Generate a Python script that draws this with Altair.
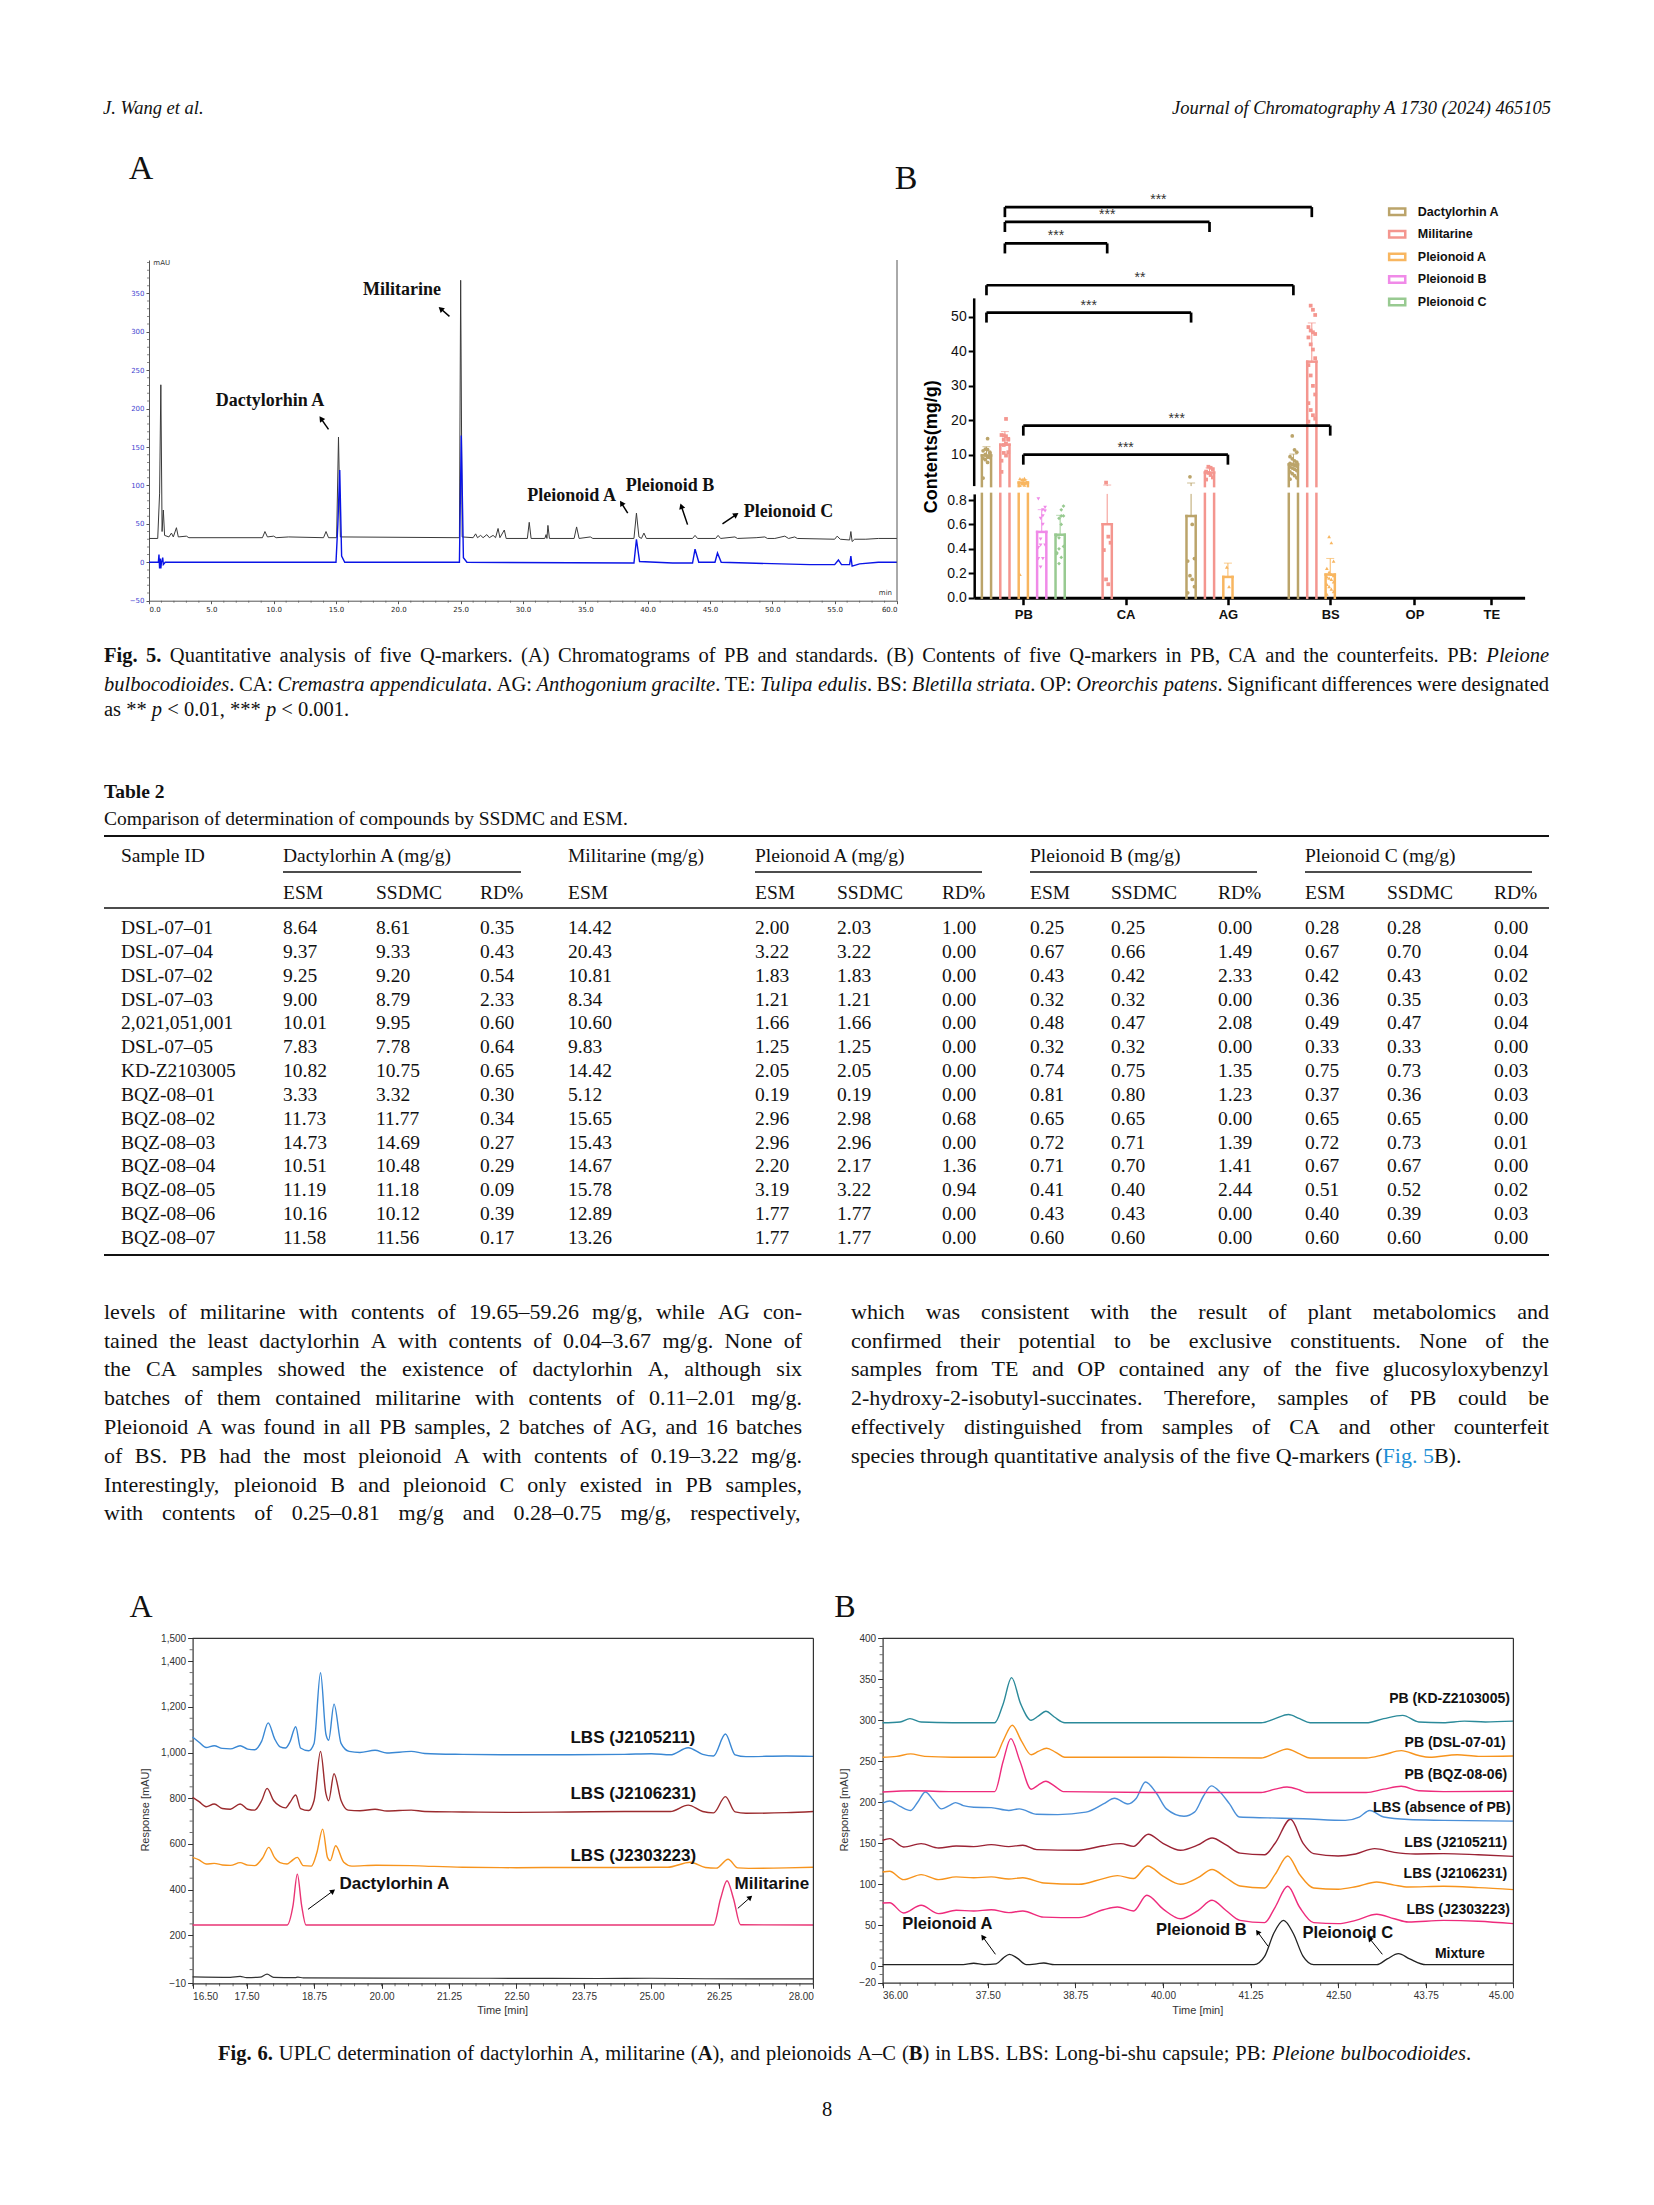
import math
import altair as alt
import pandas as pd

W, H = 1638, 2189


def P(v):
    return float(v) - 8.0


SERIF = "Liberation Serif"
SANS = "Liberation Sans"
TAH = "DejaVu Sans"
FONTS = {"serif": SERIF, "sans": SANS, "tah": TAH}

# ============================ DATA ============================
# Fig. 5A chromatograms (time [min], response [mAU])
F5A_SAMPLE = [(0.0, 31), (0.7, 31), (0.85, 90), (0.95, 231), (1.05, 40), (1.15, 68), (1.25, 35), (1.6, 33),
              (1.8, 38), (1.95, 33), (2.2, 45), (2.35, 33), (3.0, 34), (3.2, 32), (9.1, 32), (9.3, 40),
              (9.5, 33), (10.0, 34), (10.2, 32), (11.2, 33), (14.0, 32), (14.2, 40), (14.4, 32), (15.05, 32),
              (15.2, 163), (15.35, 33), (24.9, 32), (25.0, 367), (25.12, 33), (26.0, 32), (26.2, 37),
              (26.35, 32), (26.6, 35), (26.8, 32), (27.1, 36), (27.3, 32), (27.6, 35), (27.8, 32), (28.0, 44),
              (28.15, 32), (28.5, 42), (28.65, 31), (30.35, 31), (30.5, 52), (30.65, 31), (31.75, 31),
              (31.85, 36), (31.92, 31), (32.0, 48), (32.12, 31), (34.1, 31), (34.3, 46), (34.5, 31),
              (35.4, 33), (35.6, 31), (38.9, 31), (39.1, 64), (39.3, 33), (39.5, 31), (39.7, 38), (39.9, 31),
              (43.6, 31), (43.8, 35), (44.0, 31), (45.45, 31), (45.65, 35), (45.85, 31), (47.0, 33),
              (47.2, 31), (48.7, 32), (49.4, 33), (49.6, 31), (50.2, 31), (51.0, 34), (51.3, 31), (51.8, 33),
              (52.0, 31), (55.0, 30), (55.2, 34), (55.45, 30), (56.2, 29), (56.3, 40), (56.4, 27),
              (56.6, 30), (57.5, 30), (58.5, 31), (60.0, 31)]
F5A_STANDARD = [(0.0, 0), (0.75, 0), (0.8, 10), (0.85, -8), (0.9, 5), (0.95, -8), (1.0, 0), (1.1, 6),
                (1.15, -3), (1.3, 0), (15.0, 0), (15.15, 50), (15.3, 120), (15.45, 8), (15.7, 0), (24.9, 0),
                (25.05, 165), (25.22, 6), (25.5, 0), (38.9, -1), (39.1, 30), (39.35, 1), (42.0, -1),
                (43.6, -1), (43.8, 17), (44.1, 0), (45.4, 0), (45.6, 12), (45.9, 0), (48.0, -1), (53.0, -3),
                (55.0, -3), (55.3, 3), (55.55, -3), (56.2, -3), (56.3, 8), (56.4, -5), (57.0, -2),
                (58.5, 0), (60.0, 0)]
F5A_LABELS = [("Militarine", 20.3, 355), ("Dactylorhin A", 9.7, 210), ("Pleionoid A", 33.9, 86),
              ("Pleionoid B", 41.8, 99), ("Pleionoid C", 51.3, 65)]

# Fig. 5B / Table 2
COMPOUNDS = ["Dactylorhin A", "Militarine", "Pleionoid A", "Pleionoid B", "Pleionoid C"]
COLORS = ["#BBA46A", "#F4968F", "#F8B660", "#F08AE8", "#98CA91"]
GROUPS = ["PB", "CA", "AG", "BS", "OP", "TE"]

SAMPLE_IDS = ["DSL-07\u201301", "DSL-07\u201304", "DSL-07\u201302", "DSL-07\u201303", "2,021,051,001",
              "DSL-07\u201305", "KD-Z2103005", "BQZ-08\u201301", "BQZ-08\u201302", "BQZ-08\u201303",
              "BQZ-08\u201304", "BQZ-08\u201305", "BQZ-08\u201306", "BQZ-08\u201307"]
DA_ESM = [8.64, 9.37, 9.25, 9.00, 10.01, 7.83, 10.82, 3.33, 11.73, 14.73, 10.51, 11.19, 10.16, 11.58]
DA_SSDMC = [8.61, 9.33, 9.20, 8.79, 9.95, 7.78, 10.75, 3.32, 11.77, 14.69, 10.48, 11.18, 10.12, 11.56]
DA_RD = [0.35, 0.43, 0.54, 2.33, 0.60, 0.64, 0.65, 0.30, 0.34, 0.27, 0.29, 0.09, 0.39, 0.17]
MIL_ESM = [14.42, 20.43, 10.81, 8.34, 10.60, 9.83, 14.42, 5.12, 15.65, 15.43, 14.67, 15.78, 12.89, 13.26]
PLA_ESM = [2.00, 3.22, 1.83, 1.21, 1.66, 1.25, 2.05, 0.19, 2.96, 2.96, 2.20, 3.19, 1.77, 1.77]
PLA_SSDMC = [2.03, 3.22, 1.83, 1.21, 1.66, 1.25, 2.05, 0.19, 2.98, 2.96, 2.17, 3.22, 1.77, 1.77]
PLA_RD = [1.00, 0.00, 0.00, 0.00, 0.00, 0.00, 0.00, 0.00, 0.68, 0.00, 1.36, 0.94, 0.00, 0.00]
PLB_ESM = [0.25, 0.67, 0.43, 0.32, 0.48, 0.32, 0.74, 0.81, 0.65, 0.72, 0.71, 0.41, 0.43, 0.60]
PLB_SSDMC = [0.25, 0.66, 0.42, 0.32, 0.47, 0.32, 0.75, 0.80, 0.65, 0.71, 0.70, 0.40, 0.43, 0.60]
PLB_RD = [0.00, 1.49, 2.33, 0.00, 2.08, 0.00, 1.35, 1.23, 0.00, 1.39, 1.41, 2.44, 0.00, 0.00]
PLC_ESM = [0.28, 0.67, 0.42, 0.36, 0.49, 0.33, 0.75, 0.37, 0.65, 0.72, 0.67, 0.51, 0.40, 0.60]
PLC_SSDMC = [0.28, 0.70, 0.43, 0.35, 0.47, 0.33, 0.73, 0.36, 0.65, 0.73, 0.67, 0.52, 0.39, 0.60]
PLC_RD = [0.00, 0.04, 0.02, 0.03, 0.04, 0.00, 0.03, 0.03, 0.00, 0.01, 0.00, 0.02, 0.03, 0.00]

CA_MIL = [2.01, 0.50, 0.45, 0.39, 0.15, 0.11]
AG_DA = [3.67, 0.60, 0.32, 0.30, 0.18, 0.15, 0.09, 0.04]
AG_MIL = [6.6, 6.3, 5.9, 5.2, 4.8, 4.2, 3.5, 2.9]
AG_PLA = [0.25, 0.09]
BS_DA = [15.5, 11.5, 10.8, 9.5, 8.9, 8.3, 7.9, 7.6, 7.3, 7.0, 6.8, 6.5, 6.2, 5.9, 5.5, 5.1, 4.6, 4.0, 3.4, 3.0]
BS_MIL = [53.2, 52.0, 50.5, 47.0, 46.0, 45.5, 45.0, 44.0, 42.0, 40.5, 38.0, 36.0, 33.0, 30.0, 27.5, 25.0,
          23.0, 21.5, 20.5, 19.65]
BS_PLA = [0.50, 0.45, 0.30, 0.24, 0.21, 0.19, 0.18, 0.17, 0.16, 0.15, 0.13, 0.11, 0.09, 0.07, 0.05, 0.03]

# significance brackets: (group1, compound1, group2, compound2, height, label)
BRACKETS = [("PB", "Militarine", "BS", "Militarine", 81.7, "***"),
            ("PB", "Militarine", "AG", "Militarine", 77.4, "***"),
            ("PB", "Militarine", "CA", "Militarine", 71.2, "***"),
            ("PB", "Dactylorhin A", "BS", "Dactylorhin A", 59.1, "**"),
            ("PB", "Dactylorhin A", "AG", "Dactylorhin A", 51.2, "***"),
            ("PB", "Pleionoid A", "BS", "Pleionoid A", 18.5, "***"),
            ("PB", "Pleionoid A", "AG", "Pleionoid A", 10.1, "***")]

# Fig. 6A traces
F6A_J2105211 = [(16.5, 1068), (16.62, 1045), (16.75, 1022), (16.9, 1030), (17.05, 1018), (17.2, 1016),
                (17.38, 1030), (17.52, 1015), (17.65, 1012), (17.78, 1050), (17.9, 1130), (18.02, 1060),
                (18.12, 1025), (18.22, 1020), (18.3, 1045), (18.41, 1113), (18.5, 1020), (18.65, 1008),
                (18.75, 1040), (18.87, 1349), (18.97, 1080), (19.02, 1054), (19.12, 1212), (19.25, 1040),
                (19.4, 1005), (19.6, 1000), (19.88, 1010), (20.1, 998), (20.55, 1005), (20.8, 996),
                (21.5, 992), (22.5, 990), (23.5, 990), (24.5, 992), (25.0, 995), (25.35, 990), (25.68, 1021),
                (25.95, 992), (26.15, 985), (26.37, 1081), (26.55, 990), (26.75, 982), (27.5, 985), (28.0, 983)]
F6A_J2106231 = [(16.5, 804), (16.62, 785), (16.75, 763), (16.9, 775), (17.05, 755), (17.2, 752), (17.38, 775),
                (17.52, 752), (17.65, 748), (17.78, 790), (17.88, 843), (18.0, 790), (18.12, 765), (18.22, 758),
                (18.3, 780), (18.41, 814), (18.5, 755), (18.65, 746), (18.75, 790), (18.87, 1005), (18.97, 820),
                (19.02, 789), (19.12, 907), (19.25, 790), (19.38, 748), (19.6, 745), (19.88, 752), (20.1, 744),
                (20.55, 748), (20.8, 742), (21.5, 740), (22.5, 738), (23.5, 740), (24.5, 742), (25.0, 742),
                (25.35, 742), (25.68, 770), (25.95, 742), (26.15, 736), (26.37, 807), (26.55, 740),
                (26.75, 734), (27.5, 737), (28.0, 742)]
F6A_J2303223 = [(16.5, 541), (16.62, 530), (16.75, 512), (16.9, 515), (17.05, 508), (17.2, 506), (17.38, 518),
                (17.52, 507), (17.65, 505), (17.8, 540), (17.91, 585), (18.02, 540), (18.12, 518), (18.25, 512),
                (18.33, 525), (18.44, 541), (18.55, 505), (18.7, 503), (18.8, 560), (18.91, 665), (19.0, 540),
                (19.05, 527), (19.15, 592), (19.3, 520), (19.45, 503), (19.9, 507), (20.55, 505), (20.8, 503),
                (21.5, 498), (22.5, 496), (23.5, 497), (24.5, 497), (25.3, 498), (25.72, 520), (26.0, 497),
                (26.2, 494), (26.42, 533), (26.6, 495), (26.8, 493), (27.5, 495), (28.0, 498)]
F6A_STANDARDS = [(16.5, 245), (18.25, 245), (18.36, 330), (18.44, 468), (18.52, 330), (18.6, 245),
                 (26.15, 245), (26.28, 360), (26.4, 439), (26.52, 360), (26.65, 246), (28.0, 245)]
F6A_BLANK = [(16.5, 18), (17.2, 16), (17.38, 20), (17.5, 15), (17.75, 17), (17.88, 30), (18.0, 16),
             (18.4, 15), (18.45, 17), (18.55, 14), (20.0, 13), (22.0, 12), (24.0, 11), (25.0, 12),
             (26.0, 10), (28.0, 9)]

# Fig. 6B traces
F6B_KD = [(36.0, 297), (36.25, 298), (36.39, 302), (36.55, 298), (37.0, 297), (37.6, 297), (37.72, 320),
          (37.84, 352), (37.97, 320), (38.12, 300), (38.22, 305), (38.33, 311), (38.45, 304), (38.6, 297),
          (39.0, 297), (40.0, 297), (41.0, 297), (41.4, 297), (41.6, 302), (41.79, 307), (41.95, 302),
          (42.1, 297), (42.9, 297), (43.15, 302), (43.42, 306), (43.65, 298), (44.0, 297), (44.3, 299),
          (44.6, 298), (45.0, 299)]
F6B_DSL = [(36.0, 255), (36.2, 256), (36.4, 259), (36.6, 256), (37.0, 255), (37.6, 255), (37.72, 275),
           (37.85, 294), (37.98, 275), (38.12, 258), (38.22, 262), (38.34, 266), (38.47, 261), (38.6, 255),
           (40.0, 255), (41.4, 254), (41.6, 260), (41.77, 265), (41.95, 259), (42.1, 254), (42.9, 254),
           (43.15, 258), (43.4, 263), (43.65, 257), (43.8, 255), (44.2, 258), (44.5, 256), (45.0, 256.5)]
F6B_BQZ = [(36.0, 212.6), (36.45, 214), (37.0, 213), (37.6, 213), (37.72, 250), (37.83, 277.6), (37.96, 250),
           (38.12, 216), (38.22, 221), (38.33, 225.6), (38.45, 220), (38.58, 213), (40.0, 212), (41.4, 212),
           (41.6, 216), (41.77, 218.7), (41.95, 215), (42.05, 212), (42.9, 212), (43.15, 216), (43.4, 219.5),
           (43.65, 214), (44.0, 213), (45.0, 213.4)]
F6B_LBS_ABS = [(36.0, 199), (36.1, 201.6), (36.25, 195), (36.4, 190), (36.5, 200), (36.61, 212.6),
               (36.72, 203), (36.84, 192), (36.95, 196), (37.04, 199.6), (37.15, 196), (37.3, 194),
               (37.55, 193.5), (37.8, 190), (37.95, 192), (38.2, 185.4), (38.5, 185), (38.9, 188),
               (39.15, 198), (39.31, 205), (39.5, 198), (39.62, 205), (39.75, 224.8), (39.9, 212),
               (40.05, 192), (40.3, 183), (40.45, 188), (40.58, 208), (40.69, 220), (40.82, 212),
               (40.95, 198), (41.09, 182), (41.5, 181), (42.0, 180), (42.6, 178), (42.8, 182), (42.95, 190),
               (43.15, 182), (43.5, 179), (44.0, 178), (45.0, 177)]
F6B_J2105211 = [(36.0, 153.7), (36.1, 155.7), (36.3, 145.5), (36.55, 149.6), (36.8, 144.3), (37.05, 146.7),
                (37.3, 146), (37.55, 148.4), (37.8, 146), (38.0, 147.6), (38.2, 142.3), (38.8, 141.5),
                (39.15, 147), (39.4, 149.6), (39.58, 146.3), (39.79, 161), (40.0, 150), (40.25, 141.5),
                (40.5, 148), (40.7, 156.5), (40.9, 148), (41.1, 138), (41.45, 136), (41.6, 150),
                (41.82, 179.3), (42.0, 150), (42.15, 137.4), (42.5, 134.6), (42.75, 137), (43.02, 143.5),
                (43.3, 139), (43.6, 137), (44.0, 137.4), (44.5, 136), (45.0, 134.1)]
F6B_J2106231 = [(36.0, 115), (36.1, 116), (36.3, 105.7), (36.55, 111.8), (36.8, 105.7), (37.05, 109),
                (37.3, 108), (37.55, 109), (37.8, 106.5), (38.0, 108), (38.3, 101.6), (38.8, 100),
                (39.15, 107), (39.35, 110.6), (39.58, 107), (39.78, 122.4), (40.0, 110), (40.25, 100),
                (40.5, 108), (40.7, 118), (40.9, 108), (41.1, 98), (41.45, 95.5), (41.6, 112), (41.78, 134.6),
                (41.95, 112), (42.15, 95.5), (42.5, 94), (42.75, 97), (43.05, 102.8), (43.3, 99),
                (43.5, 96.7), (44.0, 97.6), (44.5, 96), (45.0, 93.5)]
F6B_J2303223 = [(36.0, 77.2), (36.1, 77.5), (36.3, 65), (36.55, 74.4), (36.8, 64.2), (37.05, 68.3),
                (37.3, 67.5), (37.55, 69), (37.8, 65.4), (38.0, 67.5), (38.3, 60), (38.8, 59.3), (39.15, 69),
                (39.35, 72.4), (39.58, 67.5), (39.77, 86.6), (40.0, 70), (40.25, 58), (40.5, 68), (40.7, 80.5),
                (40.9, 68), (41.1, 56), (41.45, 53.3), (41.6, 72), (41.78, 97.6), (41.95, 72), (42.15, 53.3),
                (42.5, 52), (42.75, 56), (43.05, 63.4), (43.3, 58), (43.5, 54), (44.0, 56), (44.5, 55),
                (45.0, 52)]
F6B_MIXTURE = [(36.0, 2), (37.15, 2), (37.3, 3.7), (37.45, 2), (37.62, 3), (37.72, 10), (37.81, 14.6),
               (37.92, 10), (38.05, 2), (38.2, 3), (38.3, 4), (38.45, 2), (41.3, 2), (41.45, 12), (41.58, 40),
               (41.72, 56), (41.86, 40), (42.0, 12), (42.15, 2), (43.05, 2), (43.2, 9), (43.36, 15.4),
               (43.52, 9), (43.75, 2), (45.0, 2)]

# page text
HEADER_LEFT = "J. Wang et al."
HEADER_RIGHT = "Journal of Chromatography A 1730 (2024) 465105"
FIG5_CAPTION = [
    [("Fig. 5.", "b"), (" Quantitative analysis of five Q-markers. (A) Chromatograms of PB and standards. "
                        "(B) Contents of five Q-markers in PB, CA and the counterfeits. PB: ", "r"),
     ("Pleione", "i")],
    [("bulbocodioides", "i"), (". CA: ", "r"), ("Cremastra appendiculata", "i"), (". AG: ", "r"),
     ("Anthogonium gracilte", "i"), (". TE: ", "r"), ("Tulipa edulis", "i"), (". BS: ", "r"),
     ("Bletilla striata", "i"), (". OP: ", "r"), ("Oreorchis patens", "i"),
     (". Significant differences were designated", "r")],
    [("as ** ", "r"), ("p", "i"), (" < 0.01, *** ", "r"), ("p", "i"), (" < 0.001.", "r")],
]
TABLE_TITLE = "Table 2"
TABLE_CAPTION = "Comparison of determination of compounds by SSDMC and ESM."
BODY_LEFT = [
    "levels of militarine with contents of 19.65\u201359.26 mg/g, while AG con-",
    "tained the least dactylorhin A with contents of 0.04\u20133.67 mg/g. None of",
    "the CA samples showed the existence of dactylorhin A, although six",
    "batches of them contained militarine with contents of 0.11\u20132.01 mg/g.",
    "Pleionoid A was found in all PB samples, 2 batches of AG, and 16 batches",
    "of BS. PB had the most pleionoid A with contents of 0.19\u20133.22 mg/g.",
    "Interestingly, pleionoid B and pleionoid C only existed in PB samples,",
    "with contents of 0.25\u20130.81 mg/g and 0.28\u20130.75 mg/g, respectively,",
]
BODY_RIGHT = [
    "which was consistent with the result of plant metabolomics and",
    "confirmed their potential to be exclusive constituents. None of the",
    "samples from TE and OP contained any of the five glucosyloxybenzyl",
    "2-hydroxy-2-isobutyl-succinates. Therefore, samples of PB could be",
    "effectively distinguished from samples of CA and other counterfeit",
]
BODY_RIGHT_LAST = [("species through quantitative analysis of the five Q-markers (", "r"),
                   ("Fig. 5", "r", "#1E8FD5"), ("B).", "r")]
FIG6_CAPTION = [("Fig. 6.", "b"), (" UPLC determination of dactylorhin A, militarine (", "r"), ("A", "b"),
                ("), and pleionoids A\u2013C (", "r"), ("B", "b"),
                (") in LBS. LBS: Long-bi-shu capsule; PB: ", "r"), ("Pleione bulbocodioides", "i"), (".", "r")]
PAGE_NUMBER = "8"

# ============================ LAYOUT / STYLE ============================
GROUP_POS = {"PB": 1.0, "CA": 2.0, "AG": 3.0, "BS": 4.0, "OP": 4.823, "TE": 5.575}
COMP_OFF = {"Dactylorhin A": -0.36, "Militarine": -0.18, "Pleionoid A": 0.0, "Pleionoid B": 0.18,
            "Pleionoid C": 0.36}
HALF_BAR = 0.045

# Times metrics (per 1000 em) for text layout
REG = {' ': 250, '!': 333, '%': 833, '(': 333, ')': 333, '*': 500, ',': 250, '-': 333, '.': 250, '/': 278,
       ':': 278, ';': 278, '<': 564, '[': 333, ']': 333, '\u2013': 500,
       'A': 722, 'B': 667, 'C': 667, 'D': 722, 'E': 611, 'F': 556, 'G': 722, 'H': 722, 'I': 333, 'J': 389,
       'K': 722, 'L': 611, 'M': 889, 'N': 722, 'O': 722, 'P': 556, 'Q': 722, 'R': 667, 'S': 556, 'T': 611,
       'U': 722, 'V': 722, 'W': 944, 'X': 722, 'Y': 722, 'Z': 611,
       'a': 444, 'b': 500, 'c': 444, 'd': 500, 'e': 444, 'f': 333, 'g': 500, 'h': 500, 'i': 278, 'j': 278,
       'k': 500, 'l': 278, 'm': 778, 'n': 500, 'o': 500, 'p': 500, 'q': 500, 'r': 333, 's': 389, 't': 278,
       'u': 500, 'v': 500, 'w': 722, 'x': 500, 'y': 500, 'z': 444}
ITA = {'a': 500, 'c': 444, 'e': 444, 'f': 278, 'k': 444, 'm': 722, 'r': 389, 'v': 444, 'w': 667, 'x': 444,
       'y': 444, 'z': 389, 'A': 611, 'B': 611, 'C': 667, 'O': 722, 'P': 611, 'T': 556}
BLD = {'b': 556, 'd': 556, 'h': 556, 'j': 333, 'k': 556, 'm': 833, 'n': 556, 'p': 556, 'q': 556, 'r': 444,
       't': 333, 'u': 556, 'A': 722, 'B': 667, 'C': 722, 'F': 611, 'T': 667, 'E': 667}


def cw(ch, st):
    base = REG.get(ch, 500)
    if st == "i":
        return ITA.get(ch, base)
    if st == "b":
        return BLD.get(ch, base)
    return base


def tw(s, st, size):
    return sum(cw(c, st) for c in s) * size / 1000.0


TEXT = []


def add(x, y, text, size, st="r", fam="serif", align="left", color="#111111", angle=0):
    TEXT.append(dict(x=P(x), y=P(y), text=text, size=float(size), st=st, fam=fam, align=align,
                     color=color, angle=int(angle)))


def rich_line(runs, x0, x1, y, size, mode="left"):
    words, cur = [], []
    for run in runs:
        text, st = run[0], run[1]
        col = run[2] if len(run) > 2 else "#111111"
        parts = text.split(" ")
        for i, part in enumerate(parts):
            if i > 0 and cur:
                words.append(cur)
                cur = []
            if part:
                cur.append((part, st, col))
    if cur:
        words.append(cur)
    widths = [sum(tw(t, s, size) for t, s, c in w) for w in words]
    total = sum(widths)
    sp = 0.25 * size
    if mode == "justify" and len(words) > 1:
        gap = (x1 - x0 - total) / (len(words) - 1)
        x = x0
    elif mode == "center":
        gap = sp
        x = (x0 + x1) / 2.0 - (total + sp * (len(words) - 1)) / 2.0
    else:
        gap = sp
        x = x0
    for w, wd in zip(words, widths):
        xx = x
        for t, s, c in w:
            add(xx, y, t, size, s, "serif", "left", c)
            xx += tw(t, s, size)
        x += wd + gap


# header
add(103, 108, HEADER_LEFT, 18.5, "i")
add(1551, 108, HEADER_RIGHT, 18.5, "i", align="right")
# panel letters
add(141, 169, "A", 34, align="center")
add(906, 179, "B", 34, align="center")
add(141, 1607, "A", 32, align="center")
add(845, 1607, "B", 32, align="center")
# Fig 5 caption
CAP5_Y = [656, 684.5, 710]
rich_line(FIG5_CAPTION[0], 104, 1549, CAP5_Y[0], 20.5, "justify")
rich_line(FIG5_CAPTION[1], 104, 1549, CAP5_Y[1], 20.5, "justify")
rich_line(FIG5_CAPTION[2], 104, 1549, CAP5_Y[2], 20.5, "left")
# Table
TS = 19.5
add(104, 792, TABLE_TITLE, TS, "b")
add(104, 819, TABLE_CAPTION, TS)
COLX = [121, 283, 376, 480, 568, 755, 837, 942, 1030, 1111, 1218, 1305, 1387, 1494]
for txt, cx in [("Sample ID", 121), ("Dactylorhin A (mg/g)", 283), ("Militarine (mg/g)", 568),
                ("Pleionoid A (mg/g)", 755), ("Pleionoid B (mg/g)", 1030), ("Pleionoid C (mg/g)", 1305)]:
    add(cx, 856, txt, TS)
for txt, cx in zip(["ESM", "SSDMC", "RD%", "ESM", "ESM", "SSDMC", "RD%", "ESM", "SSDMC", "RD%", "ESM",
                    "SSDMC", "RD%"], COLX[1:]):
    add(cx, 893, txt, TS)
TABLE_COLS = [DA_ESM, DA_SSDMC, DA_RD, MIL_ESM, PLA_ESM, PLA_SSDMC, PLA_RD, PLB_ESM, PLB_SSDMC, PLB_RD,
              PLC_ESM, PLC_SSDMC, PLC_RD]
TABLE_ROWS = []
for i, sid in enumerate(SAMPLE_IDS):
    TABLE_ROWS.append(dict(x=P(COLX[0]), row=i, text=sid))
    for cx, col in zip(COLX[1:], TABLE_COLS):
        TABLE_ROWS.append(dict(x=P(cx), row=i, text="%.2f" % col[i]))
TABLE_LINES = [(104, 1549, 836, 2.0), (283, 521, 872, 1.4), (755, 982, 872, 1.4), (1030, 1257, 872, 1.4),
               (1305, 1532, 872, 1.4), (104, 1549, 908, 1.6), (104, 1549, 1255, 2.0)]
# body text
BS_ = 22
BODY_Y = [1311.7 + 28.8 * k for k in range(8)]
for k, line in enumerate(BODY_LEFT):
    rich_line([(line, "r")], 104, 802, BODY_Y[k], BS_, "justify")
for k, line in enumerate(BODY_RIGHT):
    rich_line([(line, "r")], 851, 1549, BODY_Y[k], BS_, "justify")
rich_line(BODY_RIGHT_LAST, 851, 1549, BODY_Y[5], BS_, "left")
# Fig 6 caption & page number
rich_line(FIG6_CAPTION, 218, 1471, 2053.5, 20.5, "justify")
add(827, 2110, PAGE_NUMBER, 20.5, align="center")
# axis titles as text
add(931.5, 446.7, "Contents(mg/g)", 18, "b", "sans", "center", "#000000", 270)
add(502.6, 2010.7, "Time [min]", 11, "r", "sans", "center", "#333333")
add(1197.8, 2010.7, "Time [min]", 11, "r", "sans", "center", "#333333")
add(146, 1810, "Response [mAU]", 11, "r", "sans", "center", "#333333", 270)
add(845.4, 1810, "Response [mAU]", 11, "r", "sans", "center", "#333333", 270)

# ============================ PAGE (identity scales) ============================
IDX = alt.Scale(domain=[0, W], range=[0, W], nice=False, zero=False)
IDY = alt.Scale(domain=[0, H], range=[0, H], nice=False, zero=False)


def PX(f):
    return alt.X(f, scale=IDX, axis=None)


def PY(f):
    return alt.Y(f, scale=IDY, axis=None)


page_layers = []
tdf = pd.DataFrame(TEXT)
for key, g in tdf.groupby(["fam", "st", "align", "color", "angle"]):
    fam, st, align, color, angle = key
    mk = dict(font=FONTS[fam], align=align, baseline="middle", color=color)
    if st == "i":
        mk["fontStyle"] = "italic"
    if st == "b":
        mk["fontWeight"] = "bold"
    if int(angle):
        mk["angle"] = int(angle)
    page_layers.append(alt.Chart(g.reset_index(drop=True)).mark_text(**mk).encode(
        x=PX("x:Q"), y=PY("y:Q"), text="text:N", size=alt.Size("size:Q", scale=None)))

tl = pd.DataFrame([dict(x=P(a), x2=P(b), y=P(c), sw=s) for a, b, c, s in TABLE_LINES])
page_layers.append(alt.Chart(tl).mark_rule(color="#111111").encode(
    x=PX("x:Q"), x2=alt.X2("x2"), y=PY("y:Q"), strokeWidth=alt.StrokeWidth("sw:Q", scale=None)))
page = alt.layer(*page_layers)

# table body with a row scale
ROWY = alt.Scale(domain=[0, 13], range=[P(928), P(1238)], nice=False, zero=False)
table = alt.Chart(pd.DataFrame(TABLE_ROWS)).mark_text(font=SERIF, align="left", baseline="middle",
                                                      fontSize=TS, color="#111111").encode(
    x=PX("x:Q"), y=alt.Y("row:Q", scale=ROWY, axis=None), text="text:N")


# ============================ helpers ============================
def minor_y(vals, xval, X, Y, length=3, color="#555555"):
    d = pd.DataFrame({"x": [xval] * len(vals), "y": vals})
    return alt.Chart(d).mark_tick(orient="horizontal", size=length, thickness=1, color=color,
                                  xOffset=-length / 2.0).encode(x=X("x:Q"), y=Y("y:Q"))


def minor_x(vals, yval, X, Y, length=3, color="#555555"):
    d = pd.DataFrame({"x": vals, "y": [yval] * len(vals)})
    return alt.Chart(d).mark_tick(orient="vertical", size=length, thickness=1, color=color,
                                  yOffset=length / 2.0).encode(x=X("x:Q"), y=Y("y:Q"))


def arrows(arr, sx, sy, X, Y, size, width, color="#000000"):
    recs = []
    for tt, tv, ht, hv in arr:
        dx = (ht - tt) * sx
        dy = -(hv - tv) * sy
        recs.append(dict(tt=tt, tv=tv, ht=ht, hv=hv, ang=math.degrees(math.atan2(dx, -dy)) % 360))
    d = pd.DataFrame(recs)
    shaft = alt.Chart(d).mark_rule(strokeWidth=width, color=color).encode(
        x=X("tt:Q"), y=Y("tv:Q"), x2=alt.X2("ht"), y2=alt.Y2("hv"))
    head = alt.Chart(d).mark_point(shape="triangle-up", filled=True, size=size, color=color, opacity=1).encode(
        x=X("ht:Q"), y=Y("hv:Q"), angle=alt.Angle("ang:Q", scale=None))
    return [shaft, head]


def trace(pts, X, Y, color, width=1.2, interp="linear"):
    d = pd.DataFrame(pts, columns=["t", "v"])
    return alt.Chart(d).mark_line(color=color, strokeWidth=width, interpolate=interp).encode(
        x=X("t:Q"), y=Y("v:Q"))


# ============================ FIG 5A ============================
X5A_R = [P(149), P(897)]
Y5A_R = [P(600.7), P(260)]
x5a = alt.Scale(domain=[0, 60], range=X5A_R, nice=False, zero=False)
y5a = alt.Scale(domain=[-50, 393.4], range=Y5A_R, nice=False, zero=False)
ax_x5a = alt.Axis(orient="bottom", offset=P(600.7) - H, values=[float(v) for v in range(0, 61, 5)],
                  format=".1f", labelFont=TAH, labelFontSize=7, labelColor="#222222", tickSize=3,
                  tickColor="#555555", domainColor="#555555", labelPadding=2, title=None, grid=False)
ax_y5a = alt.Axis(orient="left", offset=-P(149), values=list(range(-50, 351, 50)), format="d",
                  labelFont=TAH, labelFontSize=7, labelColor="#3F3FD0", tickSize=3, tickColor="#555555",
                  domainColor="#555555", labelPadding=2, title=None, grid=False)


def X5A(f):
    return alt.X(f, scale=x5a, axis=ax_x5a)


def Y5A(f):
    return alt.Y(f, scale=y5a, axis=ax_y5a)


f5a = [trace(F5A_SAMPLE, X5A, Y5A, "#3A3A3A", 1.0),
       trace(F5A_STANDARD, X5A, Y5A, "#0A14E6", 1.4)]
f5a.append(alt.Chart(pd.DataFrame({"x": [60.0], "y": [-50.0], "y2": [393.4]})).mark_rule(
    color="#555555", strokeWidth=1).encode(x=X5A("x:Q"), y=Y5A("y:Q"), y2=alt.Y2("y2")))
f5a.append(minor_y([v for v in range(-50, 391, 10) if v % 50], 0.0, X5A, Y5A, 2))
f5a.append(minor_x([float(v) for v in range(0, 61) if v % 5], -50.0, X5A, Y5A, 2))
f5a.append(alt.Chart(pd.DataFrame(F5A_LABELS, columns=["text", "t", "v"])).mark_text(
    font=SERIF, fontWeight="bold", fontSize=18, align="center", baseline="middle", color="#111111").encode(
    x=X5A("t:Q"), y=Y5A("v:Q"), text="text:N"))
f5a.append(alt.Chart(pd.DataFrame({"t": [0.35], "v": [389.0], "text": ["mAU"]})).mark_text(
    font=TAH, fontSize=7, align="left", baseline="middle", color="#333333").encode(
    x=X5A("t:Q"), y=Y5A("v:Q"), text="text:N"))
f5a.append(alt.Chart(pd.DataFrame({"t": [59.6], "v": [-40.0], "text": ["min"]})).mark_text(
    font=TAH, fontSize=7, align="right", baseline="middle", color="#333333").encode(
    x=X5A("t:Q"), y=Y5A("v:Q"), text="text:N"))
f5a += arrows([(24.1, 320, 23.4, 330), (14.4, 173, 13.8, 187), (38.4, 64, 37.9, 77),
               (43.2, 49, 42.7, 73), (46.0, 50, 47.1, 62)],
              748 / 60.0, 340.7 / 443.4, X5A, Y5A, 40, 1.5)
panel5a = alt.layer(*f5a)

# ============================ FIG 5B ============================
rows = []


def addvals(g, c, vals):
    for v in vals:
        rows.append(dict(group=g, compound=c, value=v, gpos=GROUP_POS[g], off=COMP_OFF[c]))


addvals("PB", "Dactylorhin A", DA_ESM)
addvals("PB", "Militarine", MIL_ESM)
addvals("PB", "Pleionoid A", PLA_ESM)
addvals("PB", "Pleionoid B", PLB_ESM)
addvals("PB", "Pleionoid C", PLC_ESM)
addvals("CA", "Militarine", CA_MIL)
addvals("AG", "Dactylorhin A", AG_DA)
addvals("AG", "Militarine", AG_MIL)
addvals("AG", "Pleionoid A", AG_PLA)
addvals("BS", "Dactylorhin A", BS_DA)
addvals("BS", "Militarine", BS_MIL)
addvals("BS", "Pleionoid A", BS_PLA)
df5b = pd.DataFrame(rows)

x5b = alt.Scale(domain=[0.52, 5.90], range=[P(974.2), P(1524.6)], nice=False, zero=False)
yU = alt.Scale(domain=[1, 85], range=[P(486.1), P(195.7)], nice=False, zero=False, clamp=True)
yL = alt.Scale(domain=[0, 0.85], range=[P(597.7), P(493.9)], nice=False, zero=False, clamp=True)
cscale = alt.Scale(domain=COMPOUNDS, range=COLORS)
sscale = alt.Scale(domain=COMPOUNDS, range=["circle", "square", "triangle-up", "triangle-down", "diamond"])

gp = [GROUP_POS[g] for g in GROUPS]
expr = ""
for i, g in enumerate(GROUPS[:-1]):
    expr += "datum.value < %.3f ? '%s' : " % ((gp[i] + gp[i + 1]) / 2.0, g)
expr += "'%s'" % GROUPS[-1]

ax_yU = alt.Axis(orient="left", offset=-P(974.2), values=[10, 20, 30, 40, 50], domain=False, tickSize=6,
                 tickWidth=2, tickColor="#000000", labelFont=SANS, labelFontSize=14, labelColor="#111111",
                 labelPadding=2, title=None, grid=False)
ax_yL = alt.Axis(orient="left", offset=-P(974.2), values=[0, 0.2, 0.4, 0.6, 0.8], format=".1f",
                 domainWidth=2.5, domainColor="#000000", tickSize=6, tickWidth=2, tickColor="#000000",
                 labelFont=SANS, labelFontSize=14, labelColor="#111111", labelPadding=2, title=None,
                 grid=False)
ax_xL = alt.Axis(orient="bottom", offset=P(597.7) - H, values=gp, labelExpr=expr, domainWidth=3,
                 domainColor="#000000", tickSize=7, tickWidth=2.5, tickColor="#000000", labelFont=SANS,
                 labelFontWeight="bold", labelFontSize=13, labelColor="#111111", labelPadding=4,
                 title=None, grid=False)


def XU(f):
    return alt.X(f, scale=x5b, axis=None)


def YU(f):
    return alt.Y(f, scale=yU, axis=ax_yU)


def XL(f):
    return alt.X(f, scale=x5b, axis=ax_xL)


def YL(f):
    return alt.Y(f, scale=yL, axis=ax_yL)


stats = alt.Chart(df5b).transform_aggregate(
    mean="mean(value)", sd="stdev(value)", groupby=["group", "compound", "gpos", "off"]
).transform_calculate(
    xc="datum.gpos + datum.off",
    xl="datum.gpos + datum.off - %f" % HALF_BAR,
    xr="datum.gpos + datum.off + %f" % HALF_BAR,
    hi="datum.mean + datum.sd",
    lo="0",
)
pts = alt.Chart(df5b).transform_window(
    rn="row_number()", groupby=["group", "compound"]
).transform_calculate(
    xj="datum.gpos + datum.off + ((datum.rn % 4) - 1.5) * 0.022"
)


def bar_panel(X, Y, up):
    colN = alt.Color("compound:N", scale=cscale, legend=None)
    if up:
        f_side, f_top, f_err = "datum.mean > 1", "datum.mean >= 1 && datum.mean <= 85", "datum.sd > 0"
        f_cap, f_pt = "datum.hi >= 1 && datum.hi <= 85", "datum.value >= 1"
    else:
        f_side, f_top, f_err = "datum.mean > 0", "datum.mean <= 0.85", "datum.sd > 0 && datum.mean <= 0.85"
        f_cap, f_pt = "datum.hi <= 0.85", "datum.value <= 0.85"
    L = []
    for xf in ("xl:Q", "xr:Q"):
        L.append(stats.transform_filter(f_side).mark_rule(strokeWidth=2.5, strokeCap="square").encode(
            x=X(xf), y=Y("lo:Q"), y2=alt.Y2("mean"), color=colN))
    L.append(stats.transform_filter(f_top).mark_rule(strokeWidth=2.5, strokeCap="square").encode(
        x=X("xl:Q"), x2=alt.X2("xr"), y=Y("mean:Q"), color=colN))
    L.append(stats.transform_filter(f_err).mark_rule(strokeWidth=1).encode(
        x=X("xc:Q"), y=Y("mean:Q"), y2=alt.Y2("hi"), color=colN))
    L.append(stats.transform_filter(f_cap).mark_tick(orient="horizontal", size=8, thickness=1).encode(
        x=X("xc:Q"), y=Y("hi:Q"), color=colN))
    L.append(pts.transform_filter(f_pt).mark_point(filled=True, size=14, opacity=1).encode(
        x=X("xj:Q"), y=Y("value:Q"), color=colN, shape=alt.Shape("compound:N", scale=sscale, legend=None)))
    return L


up_layers = [alt.Chart(pd.DataFrame({"x": [0.52], "y": [1.0], "y2": [55.3]})).mark_rule(
    color="#000000", strokeWidth=2.5).encode(x=XU("x:Q"), y=YU("y:Q"), y2=alt.Y2("y2"))]
up_layers += bar_panel(XU, YU, True)

brk = []
for g1, c1, g2, c2, yv, lab in BRACKETS:
    x1 = GROUP_POS[g1] + COMP_OFF[c1]
    x2 = GROUP_POS[g2] + COMP_OFF[c2]
    brk.append(dict(x1=x1, x2=x2, xm=(x1 + x2) / 2.0, y=yv, yb=yv - 2.9, lab=lab))
bdf = pd.DataFrame(brk)
up_layers.append(alt.Chart(bdf).mark_rule(strokeWidth=2.7, color="#000000").encode(
    x=XU("x1:Q"), x2=alt.X2("x2"), y=YU("y:Q")))
up_layers.append(alt.Chart(bdf).mark_rule(strokeWidth=2.7, color="#000000").encode(
    x=XU("x1:Q"), y=YU("y:Q"), y2=alt.Y2("yb")))
up_layers.append(alt.Chart(bdf).mark_rule(strokeWidth=2.7, color="#000000").encode(
    x=XU("x2:Q"), y=YU("y:Q"), y2=alt.Y2("yb")))
up_layers.append(alt.Chart(bdf).mark_text(font=SANS, fontSize=14, color="#333333", align="center",
                                          baseline="middle", dy=-7).encode(
    x=XU("xm:Q"), y=YU("y:Q"), text="lab:N"))
panel5b_up = alt.layer(*up_layers)
panel5b_low = alt.layer(*bar_panel(XL, YL, False))

# legend of Fig. 5B (outlined swatches + labels), rows placed by a row scale
LEG_ROWS = alt.Scale(domain=[0, 4], range=[P(211.7), P(302.0)], nice=False, zero=False)
leg_df = pd.DataFrame({"compound": COMPOUNDS, "row": list(range(len(COMPOUNDS))),
                       "xs": [P(1397.2)] * len(COMPOUNDS), "xt": [P(1417.8)] * len(COMPOUNDS)})
legend5b = alt.layer(
    alt.Chart(leg_df).mark_point(shape="M-1,-0.4H1V0.4H-1Z", size=260, filled=False, fill="white",
                                 strokeWidth=2.5, opacity=1).encode(
        x=PX("xs:Q"), y=alt.Y("row:Q", scale=LEG_ROWS, axis=None),
        color=alt.Color("compound:N", scale=cscale, legend=None)),
    alt.Chart(leg_df).mark_text(font=SANS, fontWeight="bold", fontSize=12.5, align="left", baseline="middle",
                                color="#111111").encode(
        x=PX("xt:Q"), y=alt.Y("row:Q", scale=LEG_ROWS, axis=None), text="compound:N"),
)

# ============================ FIG 6A ============================
x6a = alt.Scale(domain=[16.5, 28.0], range=[P(192.6), P(813.4)], nice=False, zero=False)
y6a = alt.Scale(domain=[-10, 1500], range=[P(1983.3), P(1638.3)], nice=False, zero=False)
ax_x6a = alt.Axis(orient="bottom", offset=P(1983.3) - H,
                  values=[16.5, 17.5, 18.75, 20.0, 21.25, 22.5, 23.75, 25.0, 26.25, 28.0], format=".2f",
                  labelFont=SANS, labelFontSize=10, labelColor="#333333", tickSize=5, tickColor="#333333",
                  domainColor="#333333", domainWidth=1.2, labelPadding=3, title=None, grid=False)
ax_y6a = alt.Axis(orient="left", offset=-P(192.6), values=[-10, 200, 400, 600, 800, 1000, 1200, 1400, 1500],
                  format=",d", labelFont=SANS, labelFontSize=10, labelColor="#333333", tickSize=5,
                  tickColor="#333333", domainColor="#333333", domainWidth=1.2, labelPadding=2, title=None,
                  grid=False)


def X6A(f):
    return alt.X(f, scale=x6a, axis=ax_x6a)


def Y6A(f):
    return alt.Y(f, scale=y6a, axis=ax_y6a)


f6a = [trace(F6A_BLANK, X6A, Y6A, "#333333", 1.2, "monotone"),
       trace(F6A_STANDARDS, X6A, Y6A, "#E93474", 1.4, "monotone"),
       trace(F6A_J2303223, X6A, Y6A, "#F7941D", 1.4, "monotone"),
       trace(F6A_J2106231, X6A, Y6A, "#9B2B2E", 1.4, "monotone"),
       trace(F6A_J2105211, X6A, Y6A, "#3A88D4", 1.4, "monotone")]
f6a.append(alt.Chart(pd.DataFrame({"x": [16.5], "x2": [28.0], "y": [1500.0]})).mark_rule(
    color="#333333", strokeWidth=1.2).encode(x=X6A("x:Q"), x2=alt.X2("x2"), y=Y6A("y:Q")))
f6a.append(alt.Chart(pd.DataFrame({"x": [28.0], "y": [-10.0], "y2": [1500.0]})).mark_rule(
    color="#333333", strokeWidth=1.2).encode(x=X6A("x:Q"), y=Y6A("y:Q"), y2=alt.Y2("y2")))
f6a.append(minor_x([16.5 + 0.25 * k for k in range(47)], -10.0, X6A, Y6A, 3, "#333333"))
f6a.append(minor_y([50 * k for k in range(1, 30) if (50 * k) % 200], 16.5, X6A, Y6A, 3, "#333333"))
F6A_LABELS = [("LBS (J2105211)", 23.5, 1065), ("LBS (J2106231)", 23.5, 818), ("LBS (J2303223)", 23.5, 548),
              ("Dactylorhin A", 19.22, 425), ("Militarine", 26.54, 425)]
f6a.append(alt.Chart(pd.DataFrame(F6A_LABELS, columns=["text", "t", "v"])).mark_text(
    font=SANS, fontWeight="bold", fontSize=17, align="left", baseline="middle", color="#111111").encode(
    x=X6A("t:Q"), y=Y6A("v:Q"), text="text:N"))
f6a += arrows([(18.64, 314, 19.10, 394), (26.60, 318, 26.83, 366)],
              620.8 / 11.5, 345.0 / 1510.0, X6A, Y6A, 35, 1.0)
panel6a = alt.layer(*f6a)

# ============================ FIG 6B ============================
x6b = alt.Scale(domain=[36.0, 45.0], range=[P(882.6), P(1513.4)], nice=False, zero=False)
y6b = alt.Scale(domain=[-20, 400], range=[P(1982.7), P(1638.3)], nice=False, zero=False)
ax_x6b = alt.Axis(orient="bottom", offset=P(1982.7) - H,
                  values=[36.0, 37.5, 38.75, 40.0, 41.25, 42.5, 43.75, 45.0], format=".2f",
                  labelFont=SANS, labelFontSize=10, labelColor="#333333", tickSize=5, tickColor="#333333",
                  domainColor="#333333", domainWidth=1.2, labelPadding=3, title=None, grid=False)
ax_y6b = alt.Axis(orient="left", offset=-P(882.6), values=[-20, 0, 50, 100, 150, 200, 250, 300, 350, 400],
                  format="d", labelFont=SANS, labelFontSize=10, labelColor="#333333", tickSize=5,
                  tickColor="#333333", domainColor="#333333", domainWidth=1.2, labelPadding=2, title=None,
                  grid=False)


def X6B(f):
    return alt.X(f, scale=x6b, axis=ax_x6b)


def Y6B(f):
    return alt.Y(f, scale=y6b, axis=ax_y6b)


f6b = [trace(F6B_MIXTURE, X6B, Y6B, "#222222", 1.3, "monotone"),
       trace(F6B_J2303223, X6B, Y6B, "#EE2B7C", 1.4, "monotone"),
       trace(F6B_J2106231, X6B, Y6B, "#F7941D", 1.4, "monotone"),
       trace(F6B_J2105211, X6B, Y6B, "#9B2335", 1.4, "monotone"),
       trace(F6B_LBS_ABS, X6B, Y6B, "#4A8FD8", 1.4, "monotone"),
       trace(F6B_BQZ, X6B, Y6B, "#EE2B7C", 1.4, "monotone"),
       trace(F6B_DSL, X6B, Y6B, "#F7941D", 1.4, "monotone"),
       trace(F6B_KD, X6B, Y6B, "#2B8A9A", 1.4, "monotone")]
f6b.append(alt.Chart(pd.DataFrame({"x": [36.0], "x2": [45.0], "y": [400.0]})).mark_rule(
    color="#333333", strokeWidth=1.2).encode(x=X6B("x:Q"), x2=alt.X2("x2"), y=Y6B("y:Q")))
f6b.append(alt.Chart(pd.DataFrame({"x": [45.0], "y": [-20.0], "y2": [400.0]})).mark_rule(
    color="#333333", strokeWidth=1.2).encode(x=X6B("x:Q"), y=Y6B("y:Q"), y2=alt.Y2("y2")))
f6b.append(minor_x([36.0 + 0.25 * k for k in range(37)], -20.0, X6B, Y6B, 3, "#333333"))
f6b.append(minor_y([10 * k for k in range(-1, 40) if (10 * k) % 50], 36.0, X6B, Y6B, 3, "#333333"))
F6B_RLABELS = [("PB (KD-Z2103005)", 44.95, 325.6), ("PB (DSL-07-01)", 44.89, 272.4),
               ("PB (BQZ-08-06)", 44.91, 233.0), ("LBS (absence of PB)", 44.96, 193.0),
               ("LBS (J2105211)", 44.91, 150.4), ("LBS (J2106231)", 44.91, 113.0),
               ("LBS (J2303223)", 44.95, 69.1)]
f6b.append(alt.Chart(pd.DataFrame(F6B_RLABELS, columns=["text", "t", "v"])).mark_text(
    font=SANS, fontWeight="bold", fontSize=14, align="right", baseline="middle", color="#111111").encode(
    x=X6B("t:Q"), y=Y6B("v:Q"), text="text:N"))
F6B_LLABELS = [("Pleionoid A", 36.28, 52.0), ("Pleionoid B", 39.9, 43.9), ("Pleionoid C", 41.99, 40.7)]
f6b.append(alt.Chart(pd.DataFrame(F6B_LLABELS, columns=["text", "t", "v"])).mark_text(
    font=SANS, fontWeight="bold", fontSize=16.5, align="left", baseline="middle", color="#111111").encode(
    x=X6B("t:Q"), y=Y6B("v:Q"), text="text:N"))
f6b.append(alt.Chart(pd.DataFrame({"text": ["Mixture"], "t": [43.88], "v": [15.4]})).mark_text(
    font=SANS, fontWeight="bold", fontSize=14, align="left", baseline="middle", color="#111111").encode(
    x=X6B("t:Q"), y=Y6B("v:Q"), text="text:N"))
f6b += arrows([(37.61, 14.6, 37.43, 35.8), (41.50, 24.4, 41.35, 41.9), (43.13, 14.6, 42.95, 33.7)],
              630.8 / 9.0, 344.4 / 420.0, X6B, Y6B, 35, 1.0)
panel6b = alt.layer(*f6b)

# ============================ COMPOSE ============================
chart = alt.layer(page, table, panel5a, panel5b_up, panel5b_low, legend5b, panel6a, panel6b).resolve_scale(
    x="independent", y="independent"
).properties(
    width=W, height=H, autosize=alt.AutoSizeParams(type="none"), padding=0, background="white"
).configure_view(stroke=None).configure_axis(grid=False)

chart.save("out.html", embed_options={"renderer": "svg", "actions": False})
